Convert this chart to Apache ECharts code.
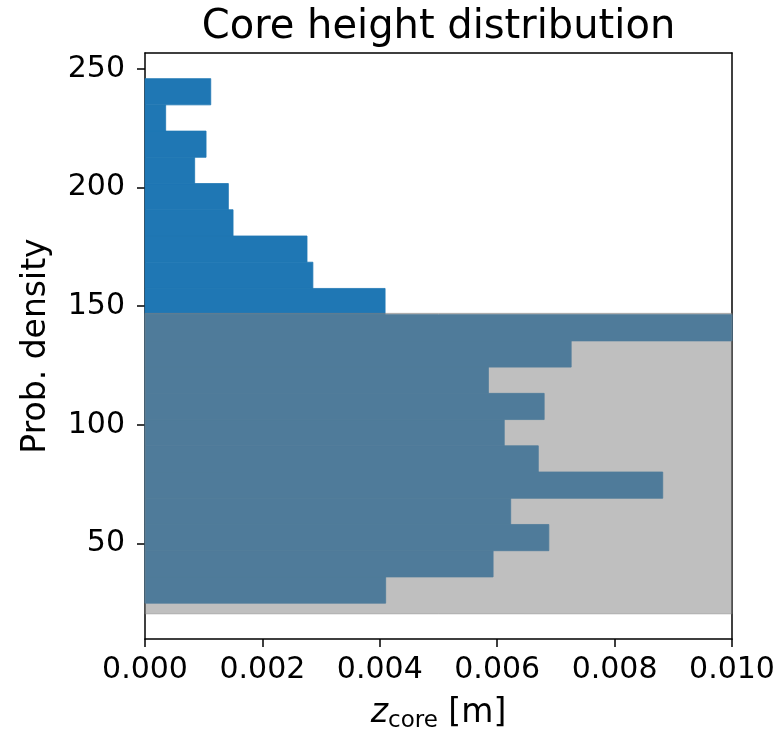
<!DOCTYPE html>
<html>
<head>
<meta charset="utf-8">
<script src="https://cdn.jsdelivr.net/npm/echarts@6/dist/echarts.min.js"></script>
<style>html,body{margin:0;padding:0;background:#fff}#c{width:782px;height:738px}</style>
</head>
<body>
<div id="c"></div>
<script>
// Histogram bin edges (core height)
const binEdges = [24.9, 35.95, 47.0, 58.05, 69.1, 80.15, 91.2, 102.25, 113.3, 124.35, 135.4,
                  146.45, 157.5, 168.55, 179.6, 190.65, 201.7, 212.75, 223.8, 234.85, 245.9];
// Bar lengths along x, lowest bin first
const barValues = [0.00410, 0.00593, 0.00688, 0.00623, 0.00882, 0.00670, 0.00612, 0.00680, 0.00585, 0.00726,
                   0.01000, 0.00409, 0.00286, 0.00276, 0.00150, 0.00142, 0.000846, 0.00104, 0.000352, 0.00112];
// Shaded horizontal band
const bandRange = [20.4, 147.0];
// Axis limits and ticks
const yLimits = [9.8, 256.7];
const yTicks = [50, 100, 150, 200, 250];
const xLimits = [0, 0.010];
const xTicks = [0, 0.002, 0.004, 0.006, 0.008, 0.010];

const FONT = 'DejaVu Sans';
const chart = echarts.init(document.getElementById('c'), null, {renderer: 'canvas'});

const barData = barValues.map((v, i) => [binEdges[i], binEdges[i + 1], v]);

const option = {
  animation: false,
  backgroundColor: '#fff',
  graphic: [{
    type: 'text', x: 438.5, y: 8, z: 10,
    style: {text: 'Core height distribution', font: '40px "DejaVu Sans"', fill: '#000', align: 'center', verticalAlign: 'top'}
  }],
  grid: {left: 145, top: 53, width: 587, height: 591, containLabel: false},
  xAxis: [{
    type: 'value', min: xLimits[0], max: xLimits[1], position: 'bottom',
    axisLine: {show: true, onZero: false, lineStyle: {color: '#000', width: 1.5}},
    axisTick: {show: true, inside: false, length: 8, lineStyle: {color: '#000', width: 1.5}, customValues: xTicks},
    axisLabel: {customValues: xTicks, formatter: v => v.toFixed(3), color: '#000', fontFamily: FONT, fontSize: 30, margin: 16},
    splitLine: {show: false},
    name: '{z|z}{sub|core}{r| [m]}', nameLocation: 'middle', nameGap: 54,
    nameTextStyle: {
      color: '#000', fontFamily: FONT, fontSize: 33,
      rich: {
        z: {fontFamily: FONT, fontSize: 33, fontStyle: 'italic', color: '#000'},
        sub: {fontFamily: FONT, fontSize: 23, color: '#000', padding: [17, 0, 0, 0]},
        r: {fontFamily: FONT, fontSize: 33, color: '#000'}
      }
    }
  }, {
    type: 'value', min: xLimits[0], max: xLimits[1], position: 'top',
    axisLine: {show: true, onZero: false, lineStyle: {color: '#000', width: 1.5}},
    axisTick: {show: false}, axisLabel: {show: false}, splitLine: {show: false}
  }],
  yAxis: [{
    type: 'value', min: yLimits[0], max: yLimits[1], position: 'left',
    axisLine: {show: true, onZero: false, lineStyle: {color: '#000', width: 1.5}},
    axisTick: {show: true, inside: false, length: 8, lineStyle: {color: '#000', width: 1.5}, customValues: yTicks},
    axisLabel: {customValues: yTicks, color: '#000', fontFamily: FONT, fontSize: 30, margin: 20},
    splitLine: {show: false},
    name: 'Prob. density', nameLocation: 'middle', nameRotate: 90, nameGap: 92,
    nameTextStyle: {color: '#000', fontFamily: FONT, fontSize: 33}
  }, {
    type: 'value', min: yLimits[0], max: yLimits[1], position: 'right',
    axisLine: {show: true, onZero: false, lineStyle: {color: '#000', width: 1.5}},
    axisTick: {show: false}, axisLabel: {show: false}, splitLine: {show: false}
  }],
  series: [{
    type: 'custom', name: 'hist', xAxisIndex: 0, yAxisIndex: 0, z: 2,
    data: barData,
    encode: {x: 2, y: [0, 1]},
    renderItem: function (params, api) {
      const p0 = api.coord([0, api.value(1)]);
      const p1 = api.coord([api.value(2), api.value(0)]);
      return {
        type: 'rect',
        shape: {x: p0[0], y: p0[1], width: p1[0] - p0[0], height: p1[1] - p0[1]},
        style: {fill: '#1f77b4', stroke: '#1f77b4', lineWidth: 0.8}
      };
    }
  }, {
    type: 'custom', name: 'band', xAxisIndex: 0, yAxisIndex: 0, z: 3,
    data: [[bandRange[0], bandRange[1]]],
    encode: {y: [0, 1]},
    renderItem: function (params, api) {
      const cs = params.coordSys;
      const top = api.coord([xLimits[0], api.value(1)])[1];
      const bot = api.coord([xLimits[0], api.value(0)])[1];
      return {
        type: 'rect',
        shape: {x: cs.x, y: top, width: cs.width, height: bot - top},
        style: {fill: '#808080', stroke: '#808080', lineWidth: 1, opacity: 0.5}
      };
    }
  }]
};
chart.setOption(option);
</script>
</body>
</html>
